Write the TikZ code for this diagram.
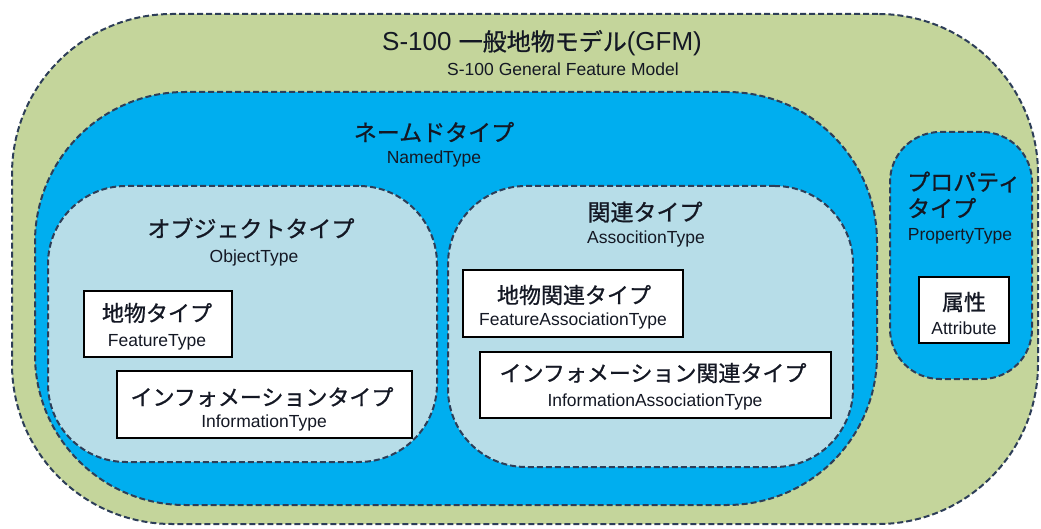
\documentclass[tikz,border=0pt]{standalone}
\usepackage{fontspec}
\setmainfont{Liberation Sans}
\newfontfamily\jp[FakeBold=0.9]{Noto Sans CJK JP}
\definecolor{gfmgreen}{RGB}{196,213,155}
\definecolor{namedblue}{RGB}{0,174,239}
\definecolor{lightblue}{RGB}{183,221,232}
\definecolor{edgec}{RGB}{45,62,88}
\definecolor{txt}{RGB}{20,24,36}
\begin{document}
\begin{tikzpicture}[x=1pt,y=-1pt,
  region/.style={rectangle, draw=edgec, line width=2pt, dash pattern=on 6pt off 3pt, inner sep=0pt},
  itembox/.style={rectangle, draw=black, line width=2.4pt, fill=white, inner sep=0pt},
  jpbig/.style={font=\jp\fontsize{23}{26}\selectfont, text=txt, inner sep=0pt},
  jpbox/.style={font=\jp\fontsize{22}{25}\selectfont, text=txt, inner sep=0pt},
  latin/.style={font=\fontsize{17.5}{20}\selectfont, text=txt, inner sep=0pt}]
\useasboundingbox (0,0) rectangle (1041,529);
% containers
\node[region, fill=gfmgreen, rounded corners=160pt, minimum width=1026pt, minimum height=510pt] (gfm) at (525,269) {};
\node[region, fill=namedblue, rounded corners=150pt, minimum width=842pt, minimum height=413pt] (named) at (456,298.5) {};
\node[region, fill=lightblue, rounded corners=78pt, minimum width=389pt, minimum height=276pt] (obj) at (242.5,324) {};
\node[region, fill=lightblue, rounded corners=78pt, minimum width=405pt, minimum height=281pt] (assoc) at (650.5,326.5) {};
\node[region, fill=namedblue, rounded corners=50pt, minimum width=142pt, minimum height=247pt] (prop) at (961,255.5) {};
% item boxes
\node[itembox, minimum width=148pt, minimum height=66pt] (feat) at (158,324) {};
\node[itembox, minimum width=295pt, minimum height=67pt] (info) at (264.5,404.5) {};
\node[itembox, minimum width=220pt, minimum height=67pt] (fassoc) at (573,303.5) {};
\node[itembox, minimum width=351pt, minimum height=66pt] (iassoc) at (655.5,385) {};
\node[itembox, minimum width=90pt, minimum height=66pt] (attr) at (964,310) {};
% titles
\node[inner sep=0pt, text=txt, font=\fontsize{26}{29}\selectfont] (gfmjp) at (542,43) {S-100 {\jp\fontsize{24}{28}\selectfont 一般地物モデル}(GFM)};
\node[latin] (gfmen) at (563,69) {S-100 General Feature Model};
\node[jpbig] (namedjp) at (434,132) {ネームドタイプ};
\node[latin] (nameden) at (434,159) {NamedType};
\node[jpbig] (objjp) at (251,228) {オブジェクトタイプ};
\node[latin] (objen) at (254,258) {ObjectType};
\node[jpbig] (assocjp) at (645,212) {関連タイプ};
\node[latin] (assocen) at (646,239) {AssocitionType};
\node[jpbig] (propjp1) at (964,182) {プロパティ};
\node[jpbig, anchor=west] (propjp2) at (907,208) {タイプ};
\node[latin] (propen) at (960,236) {PropertyType};
% item texts
\node[jpbox] (featjp) at (157,313) {地物タイプ};
\node[latin] (featen) at (157,342) {FeatureType};
\node[jpbox] (infojp) at (262,397) {インフォメーションタイプ};
\node[latin] (infoen) at (264,423) {InformationType};
\node[jpbox] (fassocjp) at (574,295) {地物関連タイプ};
\node[latin] (fassocen) at (573,321) {FeatureAssociationType};
\node[jpbox] (iassocjp) at (653,373) {インフォメーション関連タイプ};
\node[latin] (iassocen) at (655,402) {InformationAssociationType};
\node[jpbox] (attrjp) at (964,302) {属性};
\node[latin] (attren) at (964,328) {Attribute};
\end{tikzpicture}
\end{document}
